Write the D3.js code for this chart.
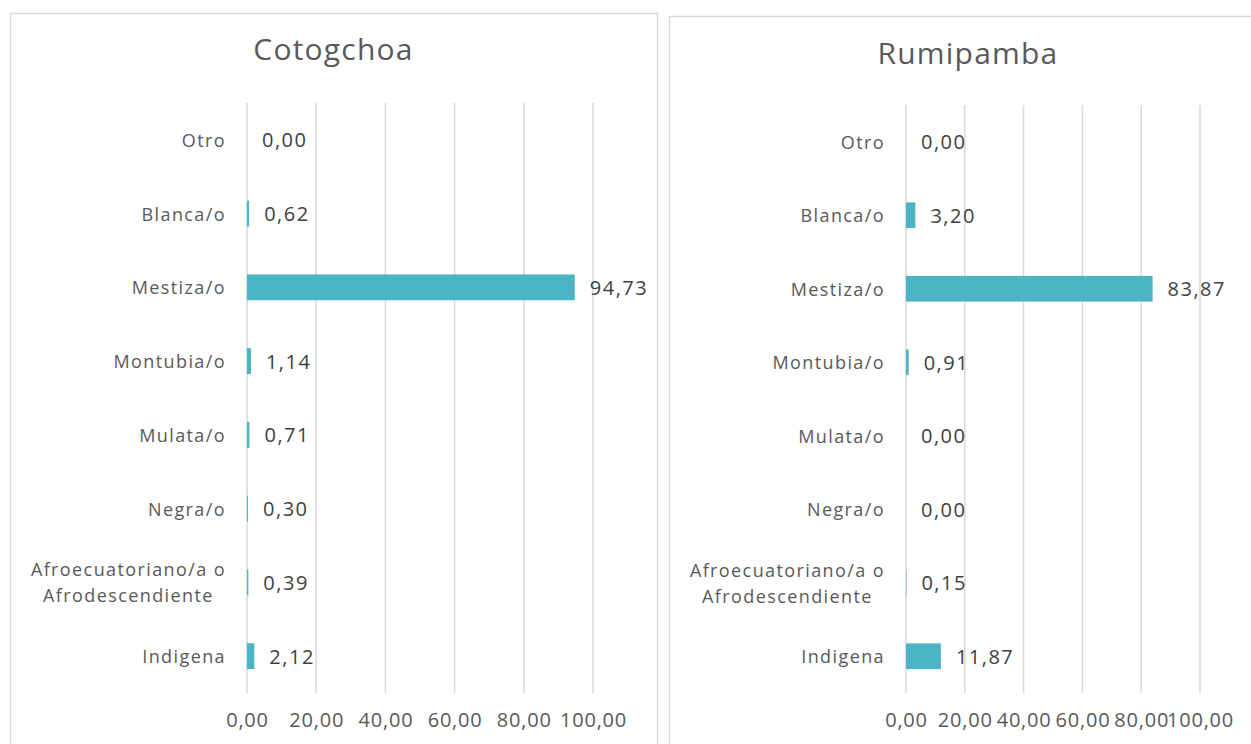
<!DOCTYPE html>
<html><head><meta charset="utf-8">
<script src="https://cdn.jsdelivr.net/npm/d3@7"></script>
<style>body{margin:0;background:#fff;}svg{display:block;font-family:"Open Sans",sans-serif;}</style>
</head><body>
<svg id="c" width="1251" height="744"></svg>
<script>
const categories = ["Otro","Blanca/o","Mestiza/o","Montubia/o","Mulata/o","Negra/o","Afroecuatoriano/a o|Afrodescendiente","Indigena"];
const titles = ["Cotogchoa","Rumipamba"];
const cotogchoa = [0.00,0.62,94.73,1.14,0.71,0.30,0.39,2.12];
const rumipamba = [0.00,3.20,83.87,0.91,0.00,0.00,0.15,11.87];
const ticks = [0,20,40,60,80,100];

const svg = d3.select("#c");
const fmt = v => v.toFixed(2).replace(".", ",");

const panels = [
  {title: titles[0], values: cotogchoa, box:[10,13,647,760], x0:247, x1:593, y0:103, y1:693, titleY:52},
  {title: titles[1], values: rumipamba, box:[669,16,598,760], x0:906, x1:1200, y0:105, y1:693, titleY:56}
];

panels.forEach(p => {
  const g = svg.append("g");
  g.append("rect").attr("x",p.box[0]+0.5).attr("y",p.box[1]+0.5).attr("width",p.box[2]).attr("height",p.box[3])
    .attr("fill","#fff").attr("stroke","#d9d9d9").attr("stroke-width",1.5);
  g.append("text").attr("x",p.box[0]+p.box[2]/2).attr("y",p.titleY).attr("text-anchor","middle")
    .attr("dominant-baseline","middle").attr("font-size",30).attr("letter-spacing",1.2).attr("fill","#595959").text(p.title);

  const x = d3.scaleLinear().domain([0,100]).range([p.x0,p.x1]);
  const y = d3.scaleBand().domain(categories).range([p.y0,p.y1]).paddingInner(0.65).paddingOuter(0.325);

  // gridlines
  g.append("g").selectAll("line").data(ticks).join("line")
    .attr("x1",d=>x(d)).attr("x2",d=>x(d)).attr("y1",p.y0).attr("y2",p.y1)
    .attr("stroke","#d9d9d9").attr("stroke-width",1.5);

  // axis labels
  const ax = g.append("g").attr("transform",`translate(0,${p.y1})`)
    .call(d3.axisBottom(x).tickValues(ticks).tickFormat(fmt).tickSize(0).tickPadding(20));
  ax.select(".domain").remove();
  ax.selectAll("text").attr("font-size",20).attr("letter-spacing",0.8).attr("fill","#595959").attr("font-family","'Open Sans',sans-serif");

  // bars
  g.append("g").selectAll("rect").data(p.values).join("rect")
    .attr("x",x(0)).attr("y",(d,i)=>y(categories[i]))
    .attr("width",d=>x(d)-x(0)).attr("height",y.bandwidth())
    .attr("fill","#4bb5c6");

  // value labels
  g.append("g").selectAll("text").data(p.values).join("text")
    .attr("x",d=>x(d)+15).attr("y",(d,i)=>y(categories[i])+y.bandwidth()/2)
    .attr("dominant-baseline","central").attr("font-size",20).attr("letter-spacing",1.5).attr("fill","#404040")
    .text(fmt);

  // category labels
  categories.forEach(c => {
    const cy = y(c)+y.bandwidth()/2;
    const lines = c.split("|");
    const right = p.x0 - 21;
    if (lines.length === 1) {
      g.append("text").attr("x",right).attr("y",cy).attr("text-anchor","end")
        .attr("dominant-baseline","central").attr("font-size",18).attr("letter-spacing",1.4).attr("fill","#595959").text(lines[0]);
    } else {
      const t = g.append("text").attr("font-size",18).attr("letter-spacing",1.4).attr("fill","#595959").attr("text-anchor","middle");
      const tmp = g.append("text").attr("font-size",18).attr("letter-spacing",1.4).text(lines[0]);
      const w = tmp.node().getComputedTextLength(); tmp.remove();
      const cx = right - w/2;
      lines.forEach((l,i)=>{
        t.append("tspan").attr("x",cx).attr("y",cy + (i-0.5)*26).attr("dominant-baseline","central").text(l);
      });
    }
  });
});
</script>
</body></html>
